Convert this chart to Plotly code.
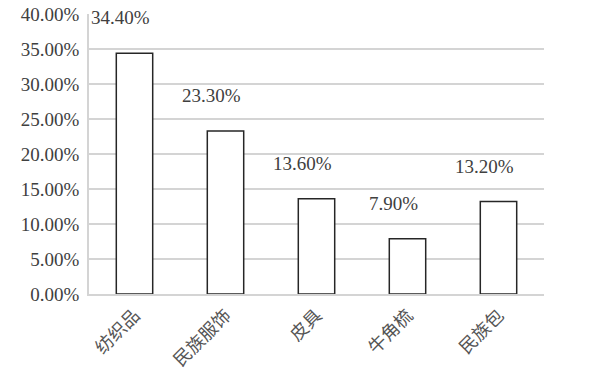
import plotly.graph_objects as go

categories = ["纺织品", "民族服饰", "皮具", "牛角梳", "民族包"]
values = [34.4, 23.3, 13.6, 7.9, 13.2]
tick_vals = [0, 5, 10, 15, 20, 25, 30, 35, 40]
tick_text = [f"{v:.2f}%" for v in tick_vals]

fig = go.Figure()
fig.add_trace(go.Bar(
    x=categories, y=values,
    marker=dict(color="white", line=dict(color="#262626", width=1.5)),
    width=0.4, cliponaxis=False, hoverinfo="skip",
))

for c, v in zip(categories, values):
    fig.add_annotation(
        x=c, y=v, text=f"{v:.2f}%", showarrow=False,
        yanchor="bottom", yshift=23, xshift=-14,
        font=dict(family="Liberation Serif", size=19, color="#404040"),
    )

fig.update_layout(
    width=600, height=375,
    margin=dict(l=89, r=56, t=14, b=81),
    paper_bgcolor="white", plot_bgcolor="white",
    showlegend=False,
    font=dict(family="Liberation Serif", size=19, color="#404040"),
)
fig.update_yaxes(
    range=[0, 40], tickvals=tick_vals, ticktext=tick_text,
    showgrid=True, gridcolor="#d4d4d4", gridwidth=1.5,
    showline=True, linecolor="#d4d4d4", linewidth=1.5,
    zeroline=False, ticks="", ticklabelstandoff=4, automargin=False,
    tickfont=dict(family="Liberation Serif", size=19, color="#404040"),
)
fig.update_xaxes(
    tickangle=-45, showgrid=False, showline=True, linecolor="#d4d4d4", linewidth=1.5,
    ticks="", automargin=False, ticklabelstandoff=2,
    tickfont=dict(family="Noto Sans CJK SC", size=18, color="#555555"),
)

fig.write_html(
    "out.html",
    config={"displayModeBar": False},
    post_script="document.body.style.margin='0';document.body.style.overflow='hidden';",
)
